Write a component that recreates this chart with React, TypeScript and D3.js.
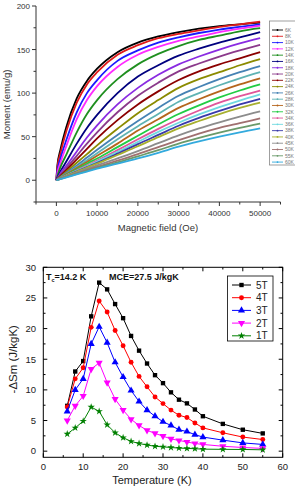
import React from 'react';
import * as d3 from 'd3';

// ---- top panel: M(H) isotherms ----
const fieldOe = [0, 250, 1000, 2500, 5000, 7500, 10000, 15000, 20000, 25000, 30000, 35000, 40000, 45000, 50000];

const m6 = [0, 17, 35, 62, 94, 114, 128, 147, 158, 165, 170, 174, 177, 179, 181];
const m8 = [0, 15, 31, 57, 89, 110, 124, 144, 155, 163, 168, 172, 176, 179, 182];
const m10 = [0, 11, 25, 47, 78, 100, 115, 137, 149, 158, 164, 169, 173, 176, 179];
const m12 = [0, 8, 20, 40, 70, 92, 108, 130, 144, 153, 160, 165, 170, 174, 177.5];
const m14 = [0, 5, 15, 30, 55, 76, 92, 116, 133, 145, 154, 161, 166, 171, 174.5];
const m16 = [0, 3, 10, 22, 42, 60, 75, 100, 119, 132, 143, 151, 158, 164, 170];
const m18 = [0, 2, 8, 17, 33, 49, 63, 87, 106, 121, 133, 142, 150, 157, 163];
const m20 = [0, 1.5, 6, 14, 28, 42, 55, 78, 97, 112, 125, 134, 142, 149, 155.5];
const m22 = [0, 1.2, 5, 12, 24, 36, 48, 69, 87, 102, 115, 125, 133, 140, 147];
const m24 = [0, 1, 4, 10, 20, 30, 40, 59, 77, 92, 106, 116, 124, 132, 139];
const m26 = [0, 0.9, 3.5, 8.5, 17, 26, 35, 52, 68, 83, 97, 107, 116, 124, 131];
const m28 = [0, 0.8, 3, 7.5, 15, 23, 31, 47, 62, 76, 90, 100, 109, 117, 124];
const m30 = [0, 0.7, 2.8, 7, 14, 21, 28, 42, 57, 70, 83, 93, 102, 110, 117];
const m32 = [0, 0.6, 2.5, 6.2, 12.5, 19, 25, 38, 51, 64, 76, 86, 95, 103, 110];
const m34 = [0, 0.6, 2.3, 5.7, 11.5, 17, 22.5, 34.5, 47, 59, 70, 80, 89, 96.5, 103];
const m36 = [0, 0.5, 2.2, 5.4, 10.8, 16, 21.5, 32.5, 44, 55.5, 66, 75.5, 84, 91.5, 98.5];
const m38 = [0, 0.5, 2.1, 5.1, 10.2, 15.2, 20, 30.5, 41.5, 52, 62.5, 71.5, 79.5, 87, 93.5];
const m40 = [0, 0.5, 2, 4.9, 9.7, 14.5, 19, 29, 39, 49.5, 59.5, 68, 76, 83, 89];
const m45 = [0, 0.4, 1.8, 4.4, 8.7, 13, 17, 25, 33.5, 42.5, 51.5, 59.5, 66.5, 73, 79];
const m50 = [0, 0.4, 1.6, 4, 7.8, 11.7, 15.3, 22.5, 30, 38, 46, 53.5, 60, 65.5, 71];
const m55 = [0, 0.35, 1.5, 3.7, 7.2, 10.8, 14.2, 20.5, 27.5, 34.5, 42, 48.5, 54.5, 60, 65];
const m60 = [0, 0.3, 1.4, 3.4, 6.7, 10, 13.2, 19, 25, 31.5, 38.5, 44.5, 50, 55, 59.5];

const isoLabels = ['6K', '8K', '10K', '12K', '14K', '16K', '18K', '20K', '22K', '24K', '26K', '28K', '30K', '32K', '34K', '36K', '38K', '40K', '45K', '50K', '55K', '60K'];
const isoSeries = [m6, m8, m10, m12, m14, m16, m18, m20, m22, m24, m26, m28, m30, m32, m34, m36, m38, m40, m45, m50, m55, m60];
const isoColors = ['#000000', '#e01a1a', '#1a1aff', '#ff2bff', '#1f8f1f', '#00007e', '#8a2be2', '#8b3a8b', '#8b0000', '#8b8b00', '#4682b4', '#5fb3b3', '#b5651d', '#22cc44', '#e0569a', '#6fd9e0', '#3a3aaa', '#a8b030', '#8c8c8c', '#a07070', '#6a9a6a', '#33aadd'];

const topXTicks = [0, 10000, 20000, 30000, 40000, 50000];
const topYTicks = [0, 50, 100, 150, 200];

// ---- bottom panel: -dSm(T) ----
const tempK = [6, 8, 10, 12, 14, 16, 18, 20, 22, 24, 26, 28, 30, 32, 34, 36, 38, 40, 45, 50, 55];
const ds5T = [7.4, 13.0, 14.7, 22.0, 27.5, 26.4, 24.0, 21.7, 18.8, 16.4, 14.3, 12.4, 11.1, 9.6, 8.4, 7.8, 6.8, 5.7, 4.45, 3.5, 2.9];
const ds4T = [7.2, 11.8, 13.6, 20.2, 24.5, 22.7, 19.7, 17.2, 14.5, 12.2, 10.5, 8.85, 7.76, 6.7, 5.86, 5.5, 4.6, 3.8, 3.0, 2.3, 1.9];
const ds3T = [6.5, 10.0, 11.8, 17.5, 20.3, 17.7, 14.5, 12.1, 9.9, 8.1, 6.7, 5.7, 4.8, 4.2, 3.5, 3.2, 2.7, 2.3, 1.8, 1.35, 1.1];
const ds2T = [5.0, 7.4, 9.0, 13.4, 14.4, 11.2, 8.5, 6.7, 5.2, 4.2, 3.4, 2.9, 2.45, 2.0, 1.75, 1.5, 1.25, 1.1, 0.8, 0.6, 0.45];
const ds1T = [2.8, 3.8, 4.9, 7.2, 6.5, 4.3, 3.0, 2.2, 1.6, 1.25, 1.0, 0.8, 0.7, 0.6, 0.5, 0.45, 0.4, 0.33, 0.3, 0.28, 0.22];

const fieldLabels = ['5T', '4T', '3T', '2T', '1T'];
const fieldSeries = [ds5T, ds4T, ds3T, ds2T, ds1T];
const fieldColors = ['#000000', '#ff0000', '#0000ff', '#ff00ff', '#008000'];
const fieldSymbols = [d3.symbolSquare, d3.symbolCircle, d3.symbolTriangle, d3.symbolTriangle, d3.symbolStar];

const botXTicks = [0, 10, 20, 30, 40, 50, 60];
const botYTicks = [0, 5, 10, 15, 20, 25, 30];

const font = 'Liberation Sans, Arial, sans-serif';

function TopPanel() {
  const x = d3.scaleLinear().domain([-5000, 55000]).range([36, 280.5]);
  const y = d3.scaleLinear().domain([-25, 200]).range([202, 6]);
  const line = d3
    .line<number>()
    .x((_, i) => x(fieldOe[i]))
    .y((d) => y(d))
    .curve(d3.curveMonotoneX);
  const minorX = d3.range(-5000, 55001, 5000);
  const minorY = d3.range(-25, 201, 25);
  const axisColor = '#333';

  return (
    <g fontFamily={font}>
      {isoSeries.map((s, i) => (
        <path key={isoLabels[i]} d={line(s) || ''} fill="none" stroke={isoColors[i]} strokeWidth={1.8} />
      ))}
      {/* axes */}
      <line x1={x(-5000)} x2={x(-5000)} y1={y(200)} y2={y(-25)} stroke={axisColor} />
      <line x1={x(-5000)} x2={x(55000)} y1={y(-25)} y2={y(-25)} stroke={axisColor} />
      {minorY.map((v) => (
        <line key={'ty' + v} x1={x(-5000) - (v % 50 === 0 ? 4 : 2.5)} x2={x(-5000)} y1={y(v)} y2={y(v)} stroke={axisColor} />
      ))}
      {minorX.map((v) => (
        <line key={'tx' + v} x1={x(v)} x2={x(v)} y1={y(-25)} y2={y(-25) + (v % 10000 === 0 ? 4 : 2.5)} stroke={axisColor} />
      ))}
      {topYTicks.map((v) => (
        <text key={'ly' + v} x={30} y={y(v) + 3} fontSize={8} textAnchor="end" fill="#333">
          {v}
        </text>
      ))}
      {topXTicks.map((v) => (
        <text key={'lx' + v} x={x(v)} y={216} fontSize={8} textAnchor="middle" fill="#333">
          {v}
        </text>
      ))}
      <text x={158} y={231} fontSize={9.5} textAnchor="middle" fill="#333">
        Magnetic field (Oe)
      </text>
      <text transform={`translate(10,${y(87)}) rotate(-90)`} fontSize={9.5} textAnchor="middle" fill="#333">
        Moment (emu/g)
      </text>
      {/* legend */}
      <rect x={269.5} y={21} width={40} height={144} fill="#fff" stroke="#888" strokeWidth={0.8} />
      {isoLabels.map((lab, i) => {
        const ly = 30 + i * 6.29;
        return (
          <g key={'lg' + lab}>
            <line x1={272} x2={283} y1={ly} y2={ly} stroke={isoColors[i]} strokeWidth={0.9} />
            <circle cx={277.5} cy={ly} r={0.9} fill={isoColors[i]} />
            <text x={285} y={ly + 1.8} fontSize={5} fill="#777">
              {lab}
            </text>
          </g>
        );
      })}
    </g>
  );
}

function BottomPanel() {
  const x = d3.scaleLinear().domain([0, 60]).range([43.3, 282.7]);
  const y = d3.scaleLinear().domain([-1, 30]).range([457.3, 267.3]);
  const line = d3
    .line<number>()
    .x((_, i) => x(tempK[i]))
    .y((d) => y(d));
  const symbolPath = (i: number) =>
    d3.symbol().type(fieldSymbols[i]).size(i === 4 ? 17 : i >= 2 ? 22 : 19)() || '';
  const left = x(0);
  const right = x(60);
  const top = y(30);
  const bottom = y(-1);
  const xTicks = d3.range(0, 61, 5);
  const yTicks = d3.range(0, 30.1, 2.5);

  return (
    <g fontFamily={font}>
      {fieldSeries.map((s, i) => (
        <g key={fieldLabels[i]}>
          <path d={line(s) || ''} fill="none" stroke={fieldColors[i]} strokeWidth={1} />
          {s.map((v, j) => (
            <path
              key={j}
              d={symbolPath(i)}
              transform={`translate(${x(tempK[j])},${y(v)})${i === 3 ? ' rotate(180)' : ''}`}
              fill={fieldColors[i]}
            />
          ))}
        </g>
      ))}
      <rect x={left} y={top} width={right - left} height={bottom - top} fill="none" stroke="#000" strokeWidth={1} />
      {xTicks.map((v) => {
        const len = v % 10 === 0 ? 4 : 2.2;
        return (
          <g key={'bx' + v}>
            <line x1={x(v)} x2={x(v)} y1={bottom} y2={bottom - len} stroke="#000" />
            <line x1={x(v)} x2={x(v)} y1={top} y2={top + len} stroke="#000" />
          </g>
        );
      })}
      {yTicks.map((v) => {
        const len = v % 5 === 0 ? 4 : 2.2;
        return (
          <g key={'by' + v}>
            <line x1={left} x2={left + len} y1={y(v)} y2={y(v)} stroke="#000" />
            <line x1={right} x2={right - len} y1={y(v)} y2={y(v)} stroke="#000" />
          </g>
        );
      })}
      {botYTicks.map((v) => (
        <text key={'bly' + v} x={36} y={y(v) + 3.3} fontSize={9.5} textAnchor="end" fill="#222">
          {v}
        </text>
      ))}
      {botXTicks.map((v) => (
        <text key={'blx' + v} x={x(v)} y={470} fontSize={9.5} textAnchor="middle" fill="#222">
          {v}
        </text>
      ))}
      <text x={152} y={484} fontSize={11} textAnchor="middle" fill="#222">
        Temperature (K)
      </text>
      <text transform={`translate(17,${y(15)}) rotate(-90)`} fontSize={11.5} textAnchor="middle" fill="#222">
        -ΔSm (J/kgK)
      </text>
      {/* annotation */}
      <text x={46} y={279.5} fontSize={9} fontWeight="bold" fill="#111">
        T<tspan fontSize={5.5} dy={2}>c</tspan>
        <tspan dy={-2}>=14.2 K</tspan>
      </text>
      <text x={109} y={279.5} fontSize={9} fontWeight="bold" fill="#111">
        MCE=27.5 J/kgK
      </text>
      {/* legend */}
      <rect x={227.5} y={276} width={45.5} height={65} fill="#fff" stroke="#000" strokeWidth={0.8} />
      {fieldLabels.map((lab, i) => {
        const ly = 285 + i * 12.7;
        return (
          <g key={'bl' + lab}>
            <line x1={232} x2={251} y1={ly} y2={ly} stroke={fieldColors[i]} strokeWidth={1} />
            <path d={symbolPath(i)} transform={`translate(241.5,${ly})${i === 3 ? ' rotate(180)' : ''}`} fill={fieldColors[i]} />
            <text x={256} y={ly + 3.5} fontSize={10} fill="#222">
              {lab}
            </text>
          </g>
        );
      })}
    </g>
  );
}

export default function App() {
  return (
    <svg width={295} height={491} style={{ position: 'absolute', left: 0, top: 0, background: '#fff' }}>
      <rect width={295} height={491} fill="#fff" />
      <TopPanel />
      <BottomPanel />
    </svg>
  );
}
